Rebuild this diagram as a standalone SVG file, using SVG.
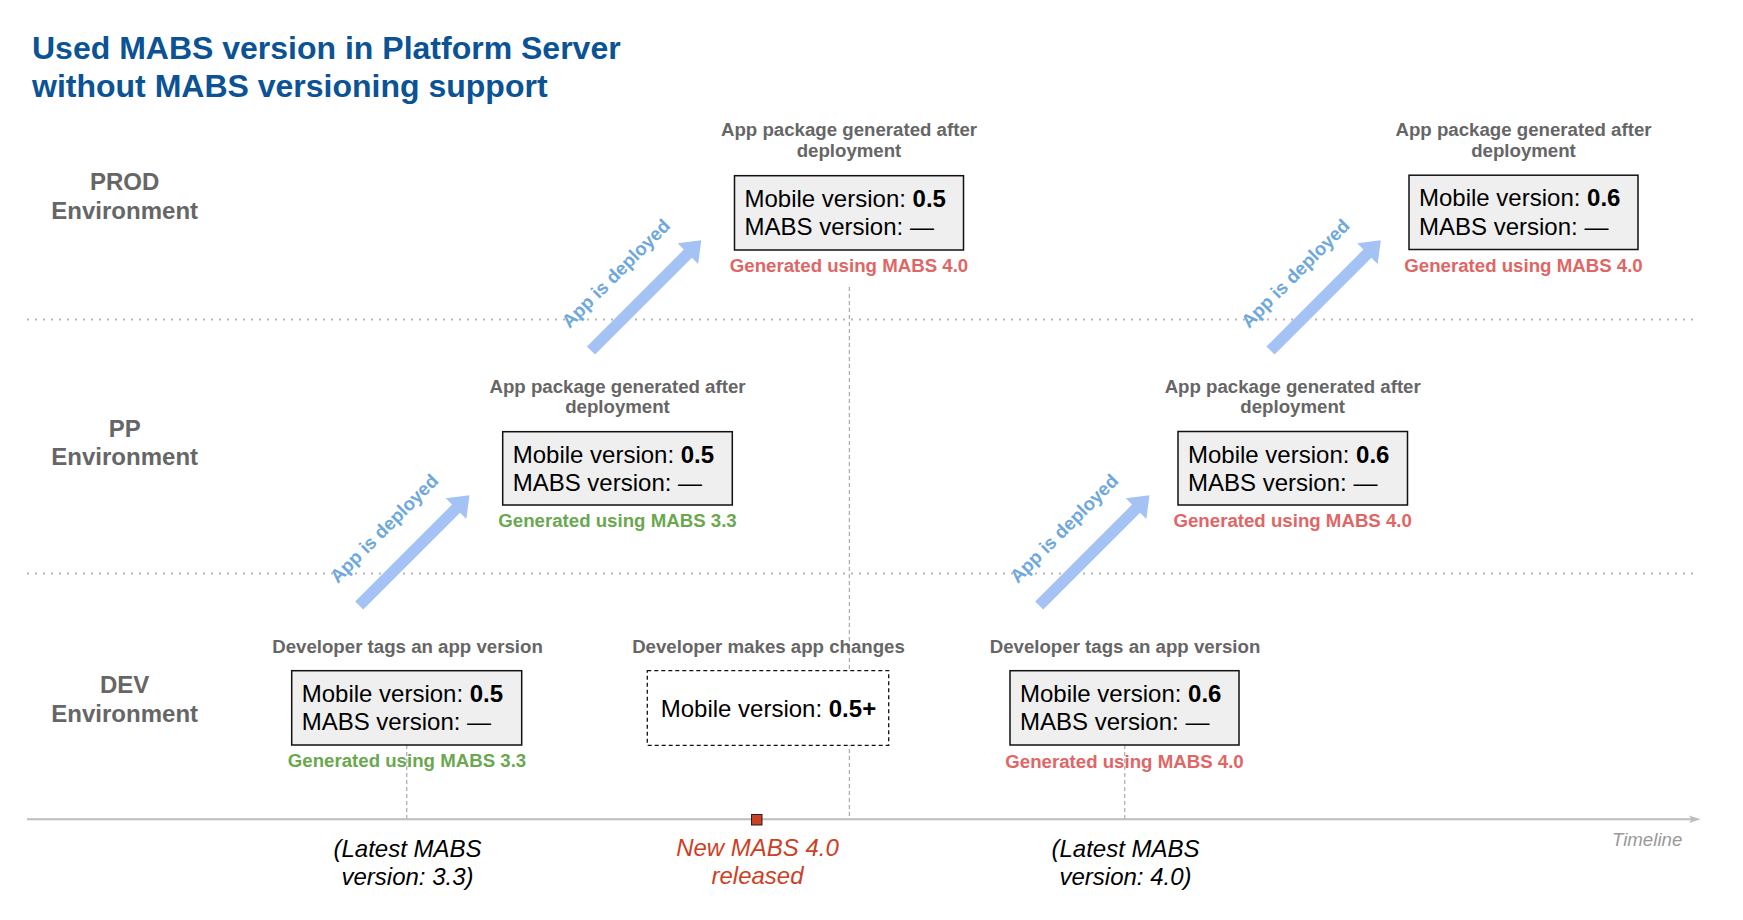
<svg xmlns="http://www.w3.org/2000/svg" width="1743" height="920" viewBox="0 0 1743 920">
<defs>
<style>
text{font-family:"Liberation Sans",Arial,Helvetica,sans-serif}
.title{font-size:32px;font-weight:bold;fill:#0b5394}
.env{font-size:24px;font-weight:bold;fill:#666;text-anchor:middle}
.head{font-size:18.67px;font-weight:bold;fill:#666;text-anchor:middle}
.box{fill:#efefef;stroke:#111;stroke-width:1.5}
.dbox{fill:#fff;stroke:#111;stroke-width:1.3;stroke-dasharray:4 3}
.bt{font-size:24px;fill:#000}
.gen-red{font-size:18.67px;font-weight:bold;fill:#e06666;text-anchor:middle}
.gen-green{font-size:18.67px;font-weight:bold;fill:#6aa84f;text-anchor:middle}
.bot{font-size:24px;font-style:italic;fill:#000;text-anchor:middle}
.bot-red{font-size:24px;font-style:italic;fill:#cc4125;text-anchor:middle}
.dot{stroke:#b7b7b7;stroke-width:2;stroke-dasharray:2 6;fill:none}
.vdash{stroke:#999;stroke-width:1;stroke-dasharray:4 3;fill:none}
.dep{font-size:18.67px;font-weight:bold;fill:#6fa8dc}
.arrow{fill:#a4c2f4}
</style>
<path id="arr" d="M0,-5.7 L137,-5.7 L137,-14.5 L156,0 L137,14.5 L137,5.7 L0,5.7 Z"/>
</defs>
<rect width="1743" height="920" fill="#fff"/>

<g id="title">
<text class="title" x="32" y="58.5">Used MABS version in Platform Server</text>
<text class="title" x="32" y="96.8">without MABS versioning support</text>
</g>

<g id="guides">
<line class="dot" x1="27" y1="319.5" x2="1698" y2="319.5"/>
<line class="dot" x1="27" y1="573.5" x2="1698" y2="573.5"/>
<line class="vdash" x1="849.3" y1="287" x2="849.3" y2="819"/>
<line class="vdash" x1="406.8" y1="745" x2="406.8" y2="819"/>
<line class="vdash" x1="1124.8" y1="745" x2="1124.8" y2="819"/>
</g>

<g id="timeline">
<line x1="27" y1="819.3" x2="1692" y2="819.3" stroke="#bdbdbd" stroke-width="2"/>
<polygon points="1689,815.6 1700.7,819.3 1689,823 1691.5,819.3" fill="#bdbdbd"/>
<rect x="751.5" y="814.5" width="10.5" height="10.5" fill="#cc4125" stroke="#222" stroke-width="1"/>
<text x="1682.3" y="846" font-size="18.67" font-style="italic" fill="#999" text-anchor="end">Timeline</text>
</g>

<g id="env-prod"><text class="env" x="124.7" y="190">PROD</text><text class="env" x="124.7" y="219">Environment</text></g>
<g id="env-pp"><text class="env" x="124.7" y="436.7">PP</text><text class="env" x="124.7" y="465">Environment</text></g>
<g id="env-dev"><text class="env" x="124.7" y="693">DEV</text><text class="env" x="124.7" y="722">Environment</text></g>

<g id="prod-1">
<text class="head" x="849" y="136">App package generated after</text>
<text class="head" x="849" y="156.7">deployment</text>
<rect class="box" x="734.5" y="175.7" width="229" height="74.3"/>
<text class="bt" x="744.5" y="206.7">Mobile version: <tspan font-weight="bold">0.5</tspan></text>
<text class="bt" x="744.5" y="235">MABS version: —</text>
<text class="gen-red" x="849" y="271.7">Generated using MABS 4.0</text>
</g>

<g id="prod-2">
<text class="head" x="1523.5" y="136">App package generated after</text>
<text class="head" x="1523.5" y="156.7">deployment</text>
<rect class="box" x="1409" y="175.2" width="229" height="74.3"/>
<text class="bt" x="1419" y="206.2">Mobile version: <tspan font-weight="bold">0.6</tspan></text>
<text class="bt" x="1419" y="234.5">MABS version: —</text>
<text class="gen-red" x="1523.5" y="271.5">Generated using MABS 4.0</text>
</g>

<g id="pp-1">
<text class="head" x="617.5" y="392.7">App package generated after</text>
<text class="head" x="617.5" y="413.3">deployment</text>
<rect class="box" x="502.7" y="431.7" width="229.6" height="73.3"/>
<text class="bt" x="512.7" y="462.5">Mobile version: <tspan font-weight="bold">0.5</tspan></text>
<text class="bt" x="512.7" y="490.8">MABS version: —</text>
<text class="gen-green" x="617.5" y="526.7">Generated using MABS 3.3</text>
</g>

<g id="pp-2">
<text class="head" x="1292.7" y="392.7">App package generated after</text>
<text class="head" x="1292.7" y="413.3">deployment</text>
<rect class="box" x="1178" y="431.5" width="229.5" height="73.5"/>
<text class="bt" x="1188" y="462.5">Mobile version: <tspan font-weight="bold">0.6</tspan></text>
<text class="bt" x="1188" y="490.8">MABS version: —</text>
<text class="gen-red" x="1292.7" y="526.7">Generated using MABS 4.0</text>
</g>

<g id="dev-1">
<text class="head" x="407.5" y="653.3">Developer tags an app version</text>
<rect class="box" x="291.7" y="670.7" width="230" height="74.3"/>
<text class="bt" x="301.7" y="701.7">Mobile version: <tspan font-weight="bold">0.5</tspan></text>
<text class="bt" x="301.7" y="730">MABS version: —</text>
<text class="gen-green" x="407" y="766.7">Generated using MABS 3.3</text>
</g>

<g id="dev-changes">
<text class="head" x="768.5" y="653.3">Developer makes app changes</text>
<rect class="dbox" x="647.3" y="670.7" width="241.4" height="74.6"/>
<text class="bt" x="660.7" y="716.7">Mobile version: <tspan font-weight="bold">0.5+</tspan></text>
</g>

<g id="dev-2">
<text class="head" x="1125" y="653.3">Developer tags an app version</text>
<rect class="box" x="1010" y="670.7" width="229" height="74.3"/>
<text class="bt" x="1020" y="701.7">Mobile version: <tspan font-weight="bold">0.6</tspan></text>
<text class="bt" x="1020" y="730">MABS version: —</text>
<text class="gen-red" x="1124.5" y="767.5">Generated using MABS 4.0</text>
</g>

<g id="milestones">
<g id="ms-33"><text class="bot" x="407.5" y="856.7">(Latest MABS</text><text class="bot" x="407.5" y="885">version: 3.3)</text></g>
<g id="ms-new"><text class="bot-red" x="757.5" y="855.5">New MABS 4.0</text><text class="bot-red" x="757.5" y="883.5">released</text></g>
<g id="ms-40"><text class="bot" x="1125.5" y="856.7">(Latest MABS</text><text class="bot" x="1125.5" y="885">version: 4.0)</text></g>
</g>

<g id="connectors">
<g transform="translate(359.2,605.5) rotate(-45)"><use href="#arr" class="arrow"/><text class="dep" x="0" y="-30.5">App is deployed</text></g>
<g transform="translate(591,350.5) rotate(-45)"><use href="#arr" class="arrow"/><text class="dep" x="0" y="-30.5">App is deployed</text></g>
<g transform="translate(1270.5,350.5) rotate(-45)"><use href="#arr" class="arrow"/><text class="dep" x="0" y="-30.5">App is deployed</text></g>
<g transform="translate(1039.2,605.5) rotate(-45)"><use href="#arr" class="arrow"/><text class="dep" x="0" y="-30.5">App is deployed</text></g>
</g>
</svg>
